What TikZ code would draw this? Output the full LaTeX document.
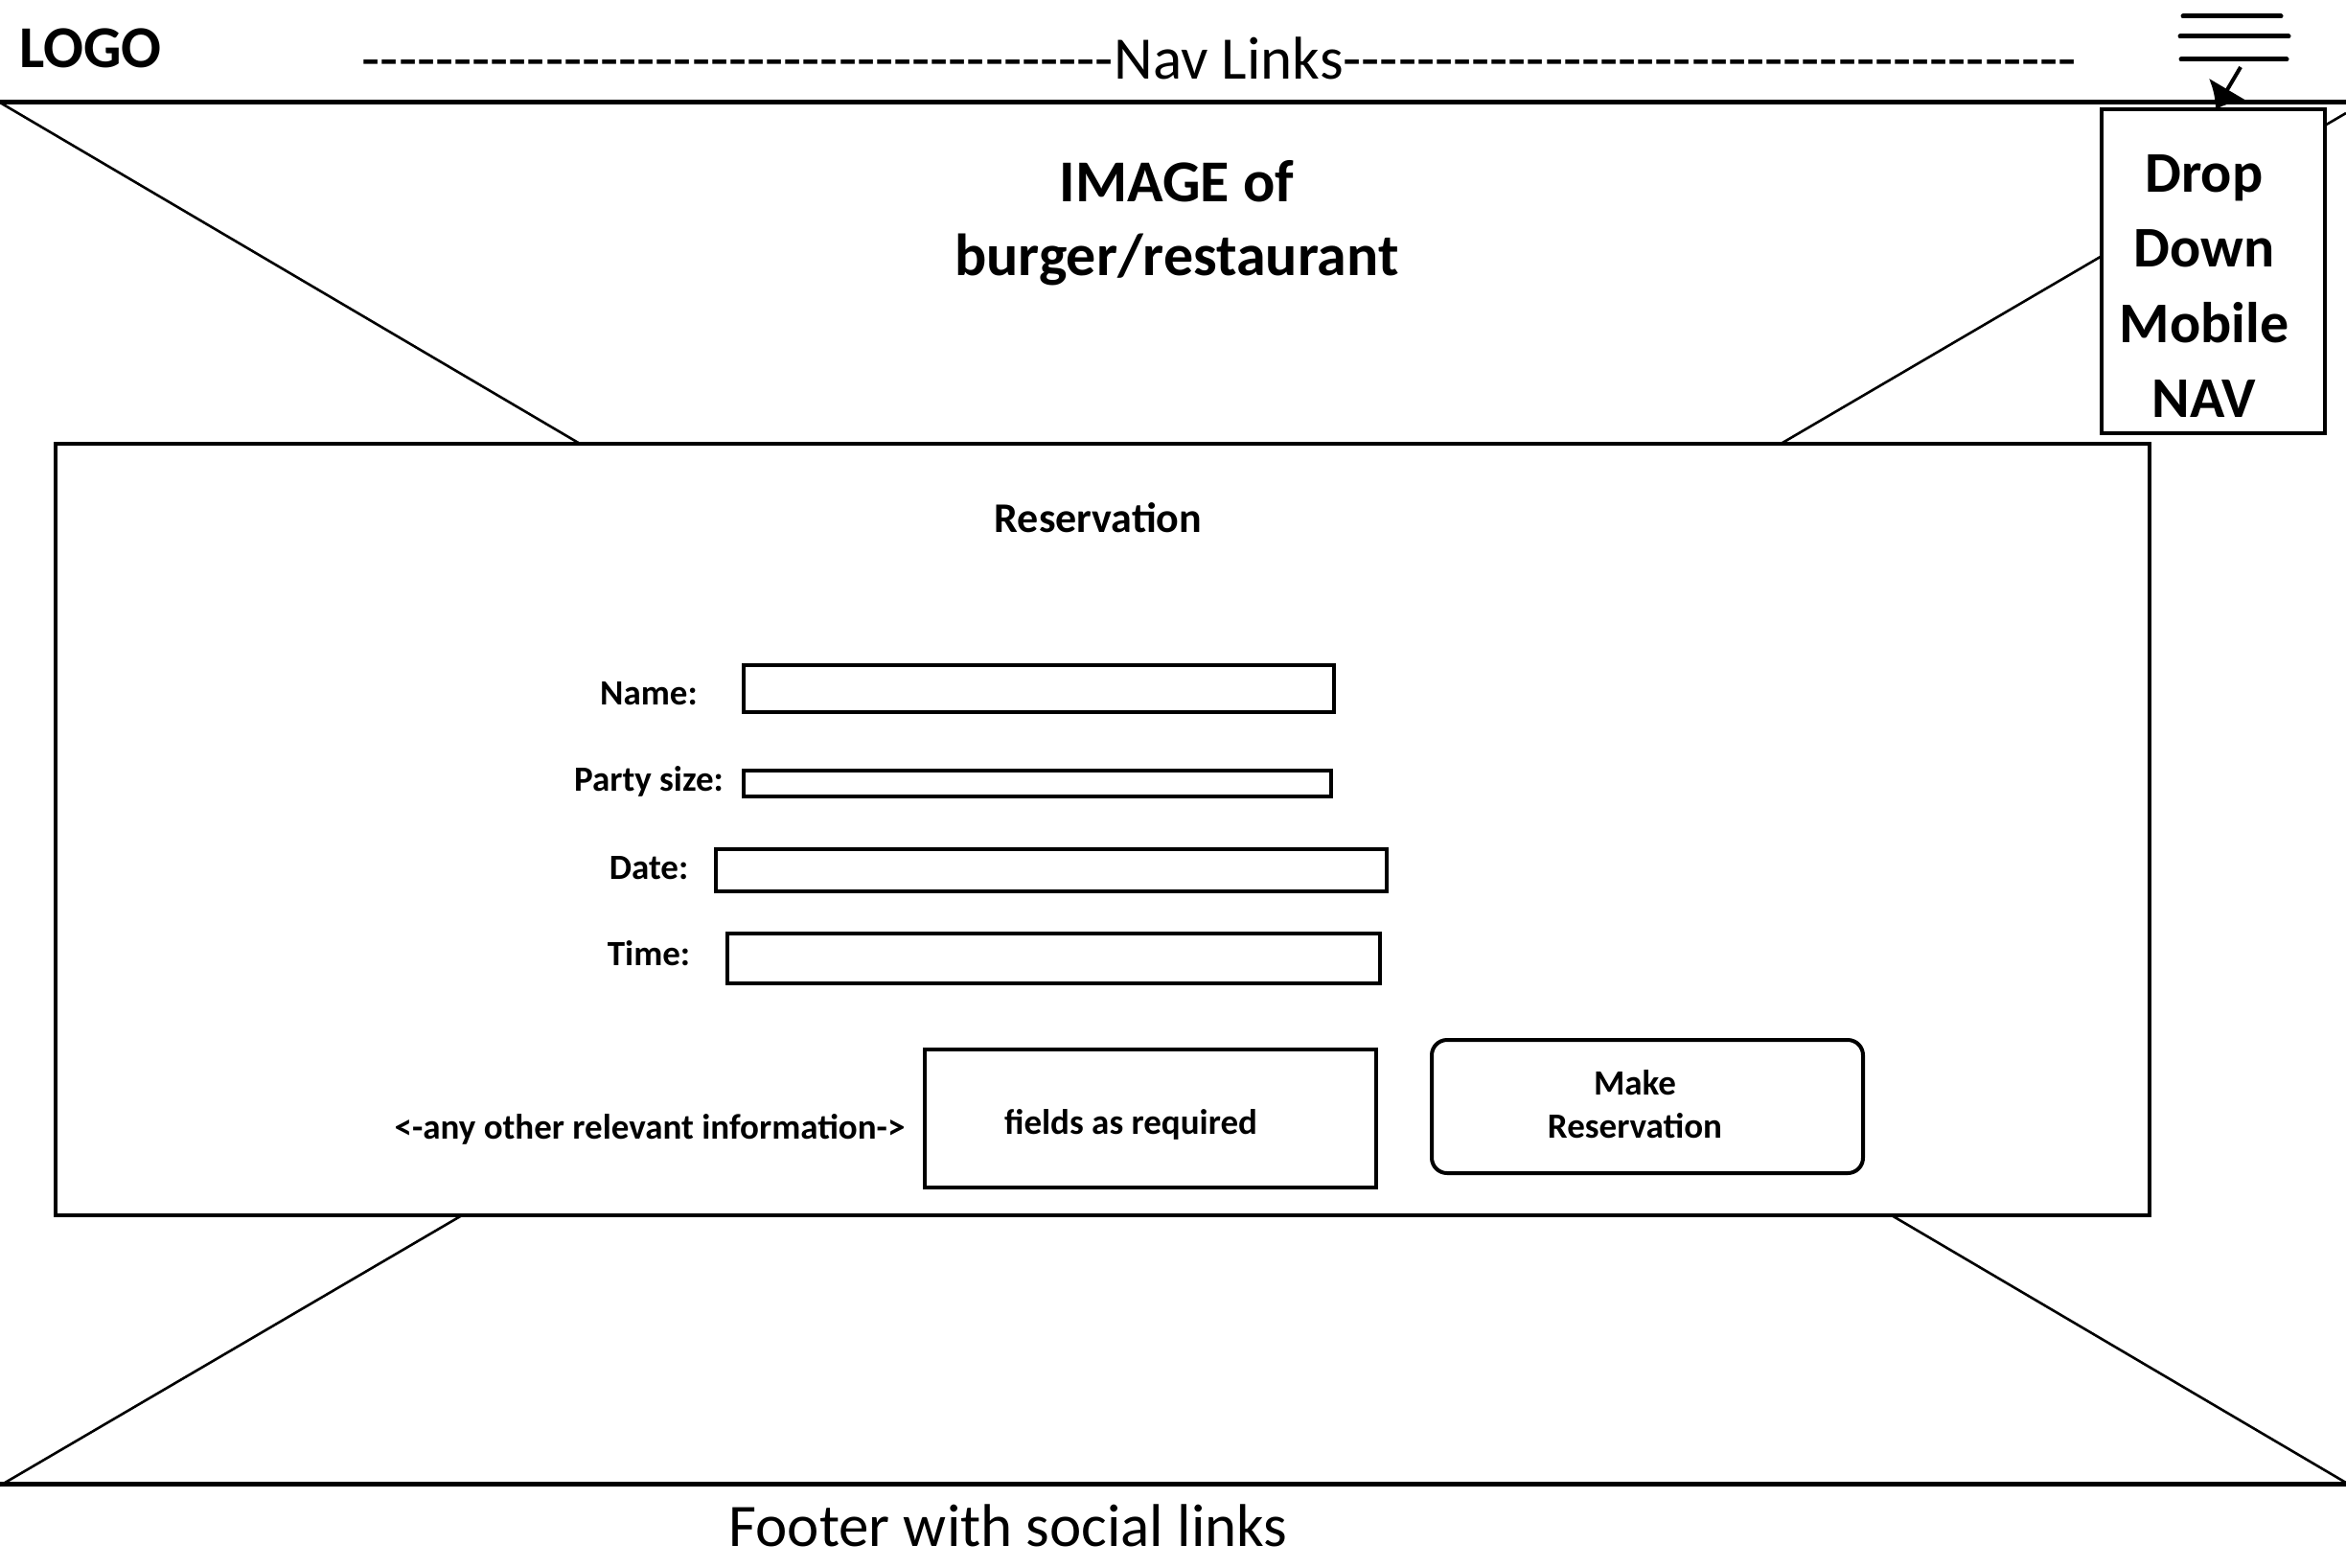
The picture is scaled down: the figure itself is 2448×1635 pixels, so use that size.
\documentclass[tikz,border=0pt]{standalone}
\usepackage{fontspec}
\setmainfont{Carlito}
\newfontfamily\navfont{Carlito}[Ligatures=TeXOff]
\usetikzlibrary{arrows.meta}
\newcommand\fsz[1]{\fontsize{#1}{#1}\selectfont}
\begin{document}
\begin{tikzpicture}[x=1pt,y=-1pt,
  heavy/.style={line width=5pt},
  diag/.style={line width=2.6pt},
  boxed/.style={draw,line width=4pt,fill=white,inner sep=0pt,outer sep=0pt},
  txt/.style={inner sep=0pt,outer sep=0pt,anchor=base},
  lbl/.style={txt,font=\bfseries\fsz{37}},
  big/.style={txt,font=\bfseries\fsz{62}},
  ddtxt/.style={txt,font=\bfseries\fsz{60}},
  reg/.style={txt,font=\fsz{63}},
  hamline/.style={line width=5pt,line cap=round},
]
\useasboundingbox (0,0) rectangle (2448,1635);
\fill[white] (0,0) rectangle (2448,1635);

% header
\node[big,anchor=base west] (logo) at (20,71) {LOGO};
\node[reg,font=\navfont\fsz{63}] (nav) at (1282,83) {Nav Links};
\node[reg,font=\navfont\fsz{62.5},anchor=base east] (navL) at (nav.base west) {-----------------------------------------};
\node[reg,font=\navfont\fsz{62.5},anchor=base west] (navR) at (nav.base east) {----------------------------------------};

% hamburger
\coordinate (h1a) at (2278,17); \coordinate (h1b) at (2380,17);
\coordinate (h2a) at (2275,38); \coordinate (h2b) at (2388,38);
\coordinate (h3a) at (2276,62); \coordinate (h3b) at (2386,62);
\draw[hamline] (h1a) -- (h1b);
\draw[hamline] (h2a) -- (h2b);
\draw[hamline] (h3a) -- (h3b);
\coordinate (ham) at (2338,70);

% image placeholder
\coordinate (itl) at (0,107); \coordinate (itr) at (2448,107);
\coordinate (ibl) at (0,1548); \coordinate (ibr) at (2448,1548);
\coordinate (d1a) at (0,107); \coordinate (d1b) at (2448,1547);
\coordinate (d2a) at (0,1550); \coordinate (d2b) at (2448,118);
\draw[diag] (d1a) -- (d1b);
\draw[diag] (d2a) -- (d2b);
\draw[heavy] (itl) -- (itr);
\draw[heavy] (ibl) -- (ibr);

\node[big] (img1) at (1228,210) {IMAGE of};
\node[big] (img2) at (1228,287) {burger/restaurant};

% drop down
\node[boxed,minimum width=233pt,minimum height=338pt] (dd) at (2309.5,283) {};
\node[ddtxt] (dd1) at (2300,200) {Drop};
\node[ddtxt] (dd2) at (2300,278) {Down};
\node[ddtxt] (dd3) at (2300,357) {Mobile};
\node[ddtxt] (dd4) at (2300,435) {NAV};
\coordinate (ddtop) at (2312,114);
\draw[line width=4pt,-{Latex[length=24pt,width=46pt]}] (ham) -- (ddtop);

% reservation box
\node[boxed,line width=4.5pt,minimum width=2185pt,minimum height=805pt] (res) at (1150.5,865.5) {};
\node[txt,font=\bfseries\fsz{44}] (restitle) at (1146,555) {Reservation};

\node[lbl] (lname) at (677,735) {Name:};
\node[lbl] (lparty) at (677,825) {Party size:};
\node[lbl] (ldate) at (677,917) {Date:};
\node[lbl] (ltime) at (677,1007) {Time:};
\node[lbl] (lother) at (678,1188) {<-any other relevant information->};

\node[boxed,minimum width=616pt,minimum height=49pt] (fname) at (1084,718.5) {};
\node[boxed,minimum width=613pt,minimum height=27pt] (fparty) at (1082.5,817.5) {};
\node[boxed,minimum width=700pt,minimum height=44pt] (fdate) at (1097,908) {};
\node[boxed,minimum width=681pt,minimum height=52pt] (ftime) at (1099.5,1000) {};
\node[boxed,minimum width=471pt,minimum height=144pt] (fmore) at (1200.5,1167) {};
\node[lbl] (fmoretxt) at (1180,1183) {fields as required};

\node[boxed,rounded corners=16pt,minimum width=450pt,minimum height=139pt] (btn) at (1719,1154.5) {};
\node[lbl] (btn1) at (1706,1142) {Make};
\node[lbl] (btn2) at (1706,1187) {Reservation};

% footer
\node[reg] (footer) at (1052,1613) {Footer with social links};
\end{tikzpicture}
\end{document}
